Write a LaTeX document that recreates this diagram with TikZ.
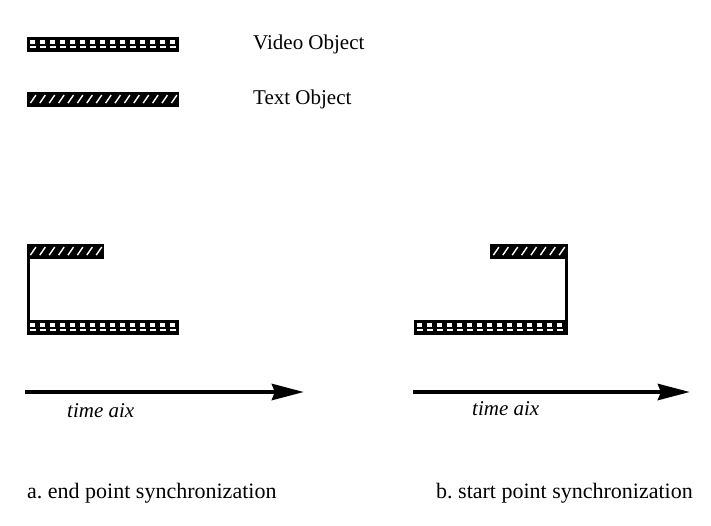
\documentclass[tikz,border=0pt]{standalone}
\usepackage{fontspec}
\setmainfont{Liberation Serif}
\usetikzlibrary{arrows.meta,calc}
\frenchspacing

\tikzset{
  label text/.style={inner sep=0pt, anchor=base west, font=\fontsize{21}{24}\selectfont},
  caption text/.style={inner sep=0pt, anchor=base west, font=\fontsize{22}{25}\selectfont},
  axis text/.style={inner sep=0pt, anchor=base west, font=\fontsize{21}{24}\selectfont\itshape},
  % black bar with two rows of white cells
  videobar/.style={rectangle, fill=black, draw=black, line width=0.8pt,
    minimum width=#1, minimum height=13.5pt, inner sep=0pt, anchor=north west,
    path picture={
      \foreach \i in {0,...,16} {
        \fill[white] ([xshift=3pt+\i*10pt, yshift=-3pt]path picture bounding box.north west)
          rectangle ++(5pt,-3.5pt);
        \fill[white] ([xshift=2.5pt+\i*10pt, yshift=-9pt]path picture bounding box.north west)
          rectangle ++(6pt,-1.3pt);
      }}},
  % black bar with white diagonal hatching
  textbar/.style={rectangle, fill=black, draw=black, line width=0.8pt,
    minimum width=#1, minimum height=13.5pt, inner sep=0pt, anchor=north west,
    path picture={
      \foreach \i in {0,...,17} {
        \draw[white, line width=1.4pt]
          ([xshift=3pt+\i*9.4pt, yshift=2.8pt]path picture bounding box.south west)
          -- ++(5.5pt,8pt);
      }}},
  syncline/.style={line width=2.4pt},
  timearrow/.style={line width=4.5pt, -{Stealth[length=32pt,width=16pt,inset=3pt]}},
}

\begin{document}
\begin{tikzpicture}[x=1pt,y=-1pt]
  \useasboundingbox (0,0) rectangle (711,525);

  % legend
  \node[videobar=151pt] (legv) at (27,37) {};
  \node[label text] (legvt) at (253,49) {Video Object};
  \node[textbar=151pt] (legt) at (27,92) {};
  \node[label text] (legtt) at (253,104) {Text Object};

  % a. end point synchronization
  \node[textbar=76pt] (ta) at (27,244) {};
  \node[videobar=151pt] (va) at (27,320) {};
  \draw[syncline] ([xshift=1.5pt]ta.south west) -- ([xshift=1.5pt]va.north west);

  \coordinate (a0) at (25,392);
  \coordinate (a1) at (304,392);
  \draw[timearrow] (a0) -- (a1);
  \node[axis text] (axa) at (67,417) {time aix};
  \node[caption text] (capa) at (27,498) {a. end point synchronization};

  % b. start point synchronization
  \node[textbar=77pt] (tb) at (490,244) {};
  \node[videobar=153pt] (vb) at (414,320) {};
  \draw[syncline] ([xshift=-1.5pt]tb.south east) -- ([xshift=-1.5pt]vb.north east);

  \coordinate (b0) at (413,392);
  \coordinate (b1) at (690,392);
  \draw[timearrow] (b0) -- (b1);
  \node[axis text] (axb) at (472,415) {time aix};
  \node[caption text] (capb) at (436,498) {b. start point synchronization};
\end{tikzpicture}
\end{document}
